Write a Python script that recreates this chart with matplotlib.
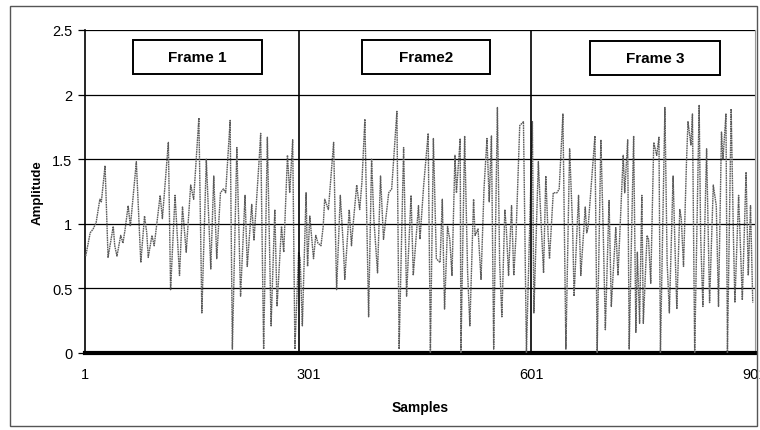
import matplotlib
matplotlib.use("Agg")
import matplotlib.pyplot as plt
from matplotlib.patches import Rectangle

plt.rcParams['font.family'] = ['Liberation Sans', 'DejaVu Sans']

# turning points of the sampled signal (sample index, amplitude)
samples = [2, 8, 12, 16, 21, 23, 28, 32, 39, 41, 44, 49, 52, 55, 59, 62, 70, 76, 81, 84,
           86, 91, 94, 102, 105, 107, 113, 116, 122, 128, 132, 137, 143, 147, 154, 158, 164, 170, 174, 178,
           183, 187, 190, 196, 199, 205, 210, 216, 219, 225, 228, 235, 237, 241, 246, 251, 256, 259, 265, 268,
           273, 276, 280, 283, 288, 290, 293, 298, 300, 303, 308, 311, 314, 318, 321, 323, 328, 335, 339, 344,
           348, 350, 356, 359, 361, 366, 370, 373, 377, 382, 386, 389, 394, 398, 402, 409, 413, 420, 423, 429,
           433, 439, 442, 449, 451, 456, 462, 465, 469, 473, 478, 481, 484, 488, 491, 494, 498, 500, 505, 506,
           511, 515, 518, 523, 525, 529, 533, 537, 541, 544, 547, 550, 555, 558, 561, 565, 567, 570, 574, 577,
           580, 585, 590, 594, 602, 604, 610, 613, 617, 620, 623, 625, 630, 635, 638, 643, 647, 652, 656, 658,
           664, 667, 673, 675, 677, 679, 686, 689, 694, 697, 700, 705, 708, 714, 717, 724, 726, 730, 732, 738,
           741, 743, 746, 749, 751, 756, 758, 761, 765, 769, 772, 774, 780, 783, 786, 791, 794, 796, 800, 802,
           805, 809, 811, 815, 817, 820, 826, 828, 831, 836, 840, 845, 849, 852, 856, 858, 862, 864, 869, 872,
           874, 879, 882, 884, 889, 892, 895, 898]
amplitude = [0.75, 0.93, 0.96, 1.01, 1.19, 1.17, 1.45, 0.74, 0.98, 0.83, 0.75, 0.91, 0.85, 0.96, 1.14, 0.98, 1.48, 0.70, 1.06, 0.93,
             0.74, 0.91, 0.83, 1.22, 1.04, 1.19, 1.63, 0.49, 1.22, 0.60, 1.13, 0.78, 1.30, 1.19, 1.82, 0.31, 1.50, 0.65, 1.37, 0.73,
             1.24, 1.27, 1.24, 1.80, 0.03, 1.59, 0.44, 1.22, 0.67, 1.15, 0.87, 1.50, 1.70, 0.03, 1.67, 0.21, 1.11, 0.36, 0.98, 0.78,
             1.53, 1.24, 1.65, 0.03, 0.78, 0.73, 0.21, 1.24, 0.67, 1.06, 0.73, 0.91, 0.85, 0.83, 0.98, 1.19, 1.11, 1.63, 0.49, 1.22,
             0.83, 0.57, 1.11, 0.83, 0.98, 1.30, 1.11, 1.32, 1.81, 0.28, 1.50, 1.04, 0.62, 1.37, 0.88, 1.24, 1.27, 1.87, 0.03, 1.59,
             0.44, 1.22, 0.60, 1.14, 0.88, 1.30, 1.70, 0.00, 1.66, 0.73, 0.70, 1.19, 0.34, 0.98, 0.88, 0.60, 1.53, 1.24, 1.66, 0.00,
             1.68, 0.62, 0.21, 1.19, 0.91, 0.96, 0.57, 1.27, 1.66, 1.17, 1.68, 0.03, 1.90, 0.70, 0.28, 1.11, 0.96, 0.60, 1.14, 0.60,
             0.91, 1.76, 1.79, 0.00, 1.79, 0.31, 1.48, 1.09, 0.62, 1.37, 0.93, 0.73, 1.24, 1.24, 1.27, 1.85, 0.03, 1.58, 0.98, 0.44,
             1.22, 0.60, 1.13, 0.93, 0.98, 1.14, 1.68, 0.00, 1.65, 0.98, 0.18, 1.18, 0.36, 0.97, 0.60, 1.53, 1.24, 1.65, 0.03, 1.68,
             0.16, 0.78, 0.23, 1.22, 0.23, 0.91, 0.88, 0.54, 1.63, 1.53, 1.67, 0.00, 1.90, 0.70, 0.31, 1.37, 0.73, 0.34, 1.11, 1.04,
             0.67, 1.48, 1.79, 1.61, 1.85, 0.00, 1.92, 0.91, 0.36, 1.58, 0.39, 1.30, 1.14, 0.36, 1.71, 1.50, 1.85, 0.00, 1.89, 0.91,
             0.39, 1.22, 0.73, 0.41, 1.40, 0.60, 1.14, 0.39]

frame_names = ['Frame 1', 'Frame2', 'Frame 3']
frame_edges = [288, 600]
x_ticks = [1, 301, 601, 901]
y_ticks = [0, 0.5, 1, 1.5, 2, 2.5]
y_labels = ['0', '0.5', '1', '1.5', '2', '2.5']

fig = plt.figure(figsize=(7.6, 4.31), dpi=100)
ax = fig.add_axes([0.1118, 0.1787, 0.8816, 0.7494])

ax.plot(samples, amplitude, color='#5c5c5c', lw=1.0, ls=(0, (1.2, 0.5)), zorder=3)

for e in frame_edges:
    ax.axvline(e, color='black', lw=1.2, zorder=4)

for y in y_ticks[1:]:
    ax.axhline(y, color='black', lw=0.9, zorder=1)

# label boxes above each frame
boxes = [(65, 239, 2.16, 2.42), (373, 545, 2.16, 2.42), (679, 854, 2.15, 2.415)]
for name, (x0, x1, y0, y1) in zip(frame_names, boxes):
    ax.add_patch(Rectangle((x0, y0), x1 - x0, y1 - y0, facecolor='white',
                           edgecolor='black', lw=1.4, zorder=5))
    ax.text((x0 + x1) / 2, (y0 + y1) / 2, name, ha='center', va='center',
            fontsize=11, fontweight='bold', zorder=6)

ax.set_xlim(1, 901)
ax.set_ylim(0, 2.5)
ax.set_xticks(x_ticks)
ax.set_xticklabels([str(t) for t in x_ticks], fontsize=10.5)
ax.set_yticks(y_ticks)
ax.set_yticklabels(y_labels, fontsize=10.5)
ax.tick_params(axis='x', length=0, pad=10)
ax.tick_params(axis='y', length=5, width=0.9, pad=4)
for lab in ax.get_xticklabels():
    lab.set_clip_on(False)

ax.spines['top'].set_visible(False)
ax.spines['right'].set_color('#999999')
ax.spines['right'].set_linewidth(0.8)
ax.spines['left'].set_linewidth(1.2)
ax.spines['bottom'].set_linewidth(3)

ax.set_xlabel('Samples', fontsize=10, fontweight='bold', labelpad=14)
ax.set_ylabel('Amplitude', fontsize=9.5, fontweight='bold', labelpad=6)

# outer chart border
fig.patches.append(Rectangle((10 / 760, 1 - 427 / 431), 747 / 760, 420 / 431,
                             transform=fig.transFigure, fill=False,
                             edgecolor='#555555', lw=1.0))

fig.savefig('out.png', dpi=100)
